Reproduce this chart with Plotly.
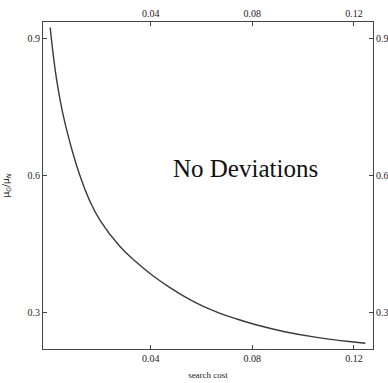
import plotly.graph_objects as go

# data
search_cost = [0.00043, 0.0015, 0.0031, 0.0057, 0.0094, 0.0120, 0.0157, 0.0200,
               0.0279, 0.0345, 0.0410, 0.0476, 0.0542, 0.0607, 0.0673, 0.0739,
               0.0818, 0.0923, 0.1054, 0.1245]
mu_ratio = [0.924, 0.870, 0.805, 0.728, 0.648, 0.602, 0.548, 0.502,
            0.4440, 0.4090, 0.3795, 0.3540, 0.3315, 0.3130, 0.2978, 0.2853,
            0.2722, 0.258, 0.245, 0.2321]
x_ticks = [0.04, 0.08, 0.12]
x_tick_text = ["0.04", "0.08", "0.12"]
y_ticks = [0.3, 0.6, 0.9]
y_tick_text = ["0.3", "0.6", "0.9"]

XR = [-0.0024, 0.1275]
YR = [0.2196, 0.936]
font = "Liberation Serif"

fig = go.Figure()
fig.add_trace(go.Scatter(x=search_cost, y=mu_ratio, mode="lines",
                         line=dict(color="#3a3a3a", width=1.4, shape="spline", smoothing=1.3),
                         hoverinfo="skip", showlegend=False))
fig.add_trace(go.Scatter(x=search_cost, y=mu_ratio, mode="lines", xaxis="x2", yaxis="y2",
                         line=dict(color="rgba(0,0,0,0)", width=0),
                         hoverinfo="skip", showlegend=False))

axis_common = dict(showline=True, linecolor="#444", linewidth=1, ticks="inside",
                   ticklen=4, tickcolor="#444", tickwidth=1, showgrid=False,
                   zeroline=False, automargin=False,
                   tickfont=dict(family=font, size=10, color="#222"))

fig.update_layout(
    width=388, height=383,
    margin=dict(l=43, r=15, t=22, b=34),
    paper_bgcolor="white", plot_bgcolor="white",
    font=dict(family=font, color="#222"),
    xaxis=dict(range=XR, tickvals=x_ticks, ticktext=x_tick_text,
               title=dict(text="search cost", font=dict(family=font, size=9, color="#222"), standoff=8),
               **axis_common),
    yaxis=dict(range=YR, tickvals=y_ticks, ticktext=y_tick_text,
               title=dict(text="μ<sub><i>G</i></sub>/μ<sub><i>N</i></sub>",
                          font=dict(family="DejaVu Sans", size=9, color="#222"), standoff=16),
               **axis_common),
    xaxis2=dict(range=XR, tickvals=x_ticks, ticktext=x_tick_text, overlaying="x", side="top",
                **axis_common),
    yaxis2=dict(range=YR, tickvals=y_ticks, ticktext=y_tick_text, overlaying="y", side="right",
                **axis_common),
    annotations=[dict(x=0.0775, y=0.614, xref="x", yref="y", text="No Deviations",
                      showarrow=False, font=dict(family=font, size=25, color="#111"))],
)

fig.write_html("out.html")
